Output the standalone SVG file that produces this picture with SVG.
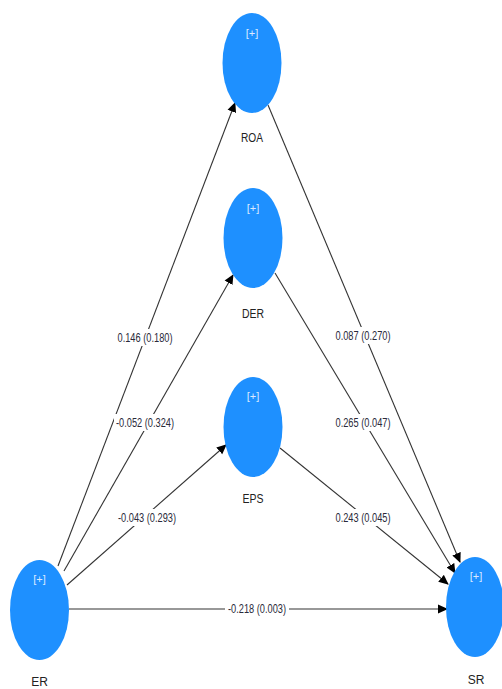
<svg xmlns="http://www.w3.org/2000/svg" width="502" height="689" viewBox="0 0 502 689">
<style>
.node{fill:#1e90ff}
.plus{font-family:"Liberation Sans",sans-serif;font-size:11px;fill:#dbe9ff;text-anchor:middle}
.name{font-family:"Liberation Sans",sans-serif;font-size:12px;fill:#222;text-anchor:middle}
.lbl{font-family:"Liberation Sans",sans-serif;font-size:12.5px;fill:#2a2a3a;text-anchor:middle}
.edge{stroke:#333;stroke-width:1.1;fill:none;marker-end:url(#arr)}
.bg{fill:#fff}
</style>
<defs>
<marker id="arr" markerWidth="10" markerHeight="10" refX="9" refY="5" orient="auto" markerUnits="userSpaceOnUse">
<path d="M0,0.5 L10,5 L0,9.5 Z" fill="#000"/>
</marker>
</defs>
<rect width="502" height="689" fill="#fff"/>
<g id="connectors">
<line class="edge" x1="58" y1="566" x2="235" y2="103"/>
<line class="edge" x1="64" y1="571" x2="233" y2="275"/>
<line class="edge" x1="67" y1="585" x2="226" y2="445"/>
<line class="edge" x1="69" y1="609" x2="447" y2="609"/>
<line class="edge" x1="268" y1="105" x2="460" y2="562"/>
<line class="edge" x1="275" y1="273" x2="455" y2="573"/>
<line class="edge" x1="280" y1="448" x2="448" y2="584"/>
<rect class="bg" x="115" y="329" width="60" height="17"/>
<text class="lbl" x="145" y="342" textLength="55" lengthAdjust="spacingAndGlyphs">0.146 (0.180)</text>
<rect class="bg" x="114" y="414" width="63" height="17"/>
<text class="lbl" x="145" y="427" textLength="58" lengthAdjust="spacingAndGlyphs">-0.052 (0.324)</text>
<rect class="bg" x="115" y="509" width="63" height="17"/>
<text class="lbl" x="147" y="522" textLength="58" lengthAdjust="spacingAndGlyphs">-0.043 (0.293)</text>
<rect class="bg" x="225" y="600" width="64" height="17"/>
<text class="lbl" x="257" y="613" textLength="58" lengthAdjust="spacingAndGlyphs">-0.218 (0.003)</text>
<rect class="bg" x="333" y="327" width="60" height="17"/>
<text class="lbl" x="363" y="340" textLength="55" lengthAdjust="spacingAndGlyphs">0.087 (0.270)</text>
<rect class="bg" x="333" y="414" width="60" height="17"/>
<text class="lbl" x="363" y="427" textLength="55" lengthAdjust="spacingAndGlyphs">0.265 (0.047)</text>
<rect class="bg" x="333" y="509" width="60" height="17"/>
<text class="lbl" x="363" y="522" textLength="55" lengthAdjust="spacingAndGlyphs">0.243 (0.045)</text>
</g>
<g id="ROA">
<ellipse class="node" cx="252" cy="63" rx="29.5" ry="50"/>
<text class="plus" x="252" y="37">[+]</text>
<text class="name" x="252" y="142" textLength="22" lengthAdjust="spacingAndGlyphs">ROA</text>
</g>
<g id="DER">
<ellipse class="node" cx="253" cy="238" rx="29.5" ry="50"/>
<text class="plus" x="253" y="212">[+]</text>
<text class="name" x="253" y="318" textLength="22" lengthAdjust="spacingAndGlyphs">DER</text>
</g>
<g id="EPS">
<ellipse class="node" cx="253" cy="427" rx="29.5" ry="50"/>
<text class="plus" x="253" y="400">[+]</text>
<text class="name" x="253" y="503" textLength="21" lengthAdjust="spacingAndGlyphs">EPS</text>
</g>
<g id="ER">
<ellipse class="node" cx="39.5" cy="610" rx="29.5" ry="50"/>
<text class="plus" x="39.5" y="583">[+]</text>
<text class="name" x="39.5" y="686">ER</text>
</g>
<g id="SR">
<ellipse class="node" cx="475" cy="607" rx="29" ry="50"/>
<text class="plus" x="476" y="580">[+]</text>
<text class="name" x="476" y="684">SR</text>
</g>
</svg>
